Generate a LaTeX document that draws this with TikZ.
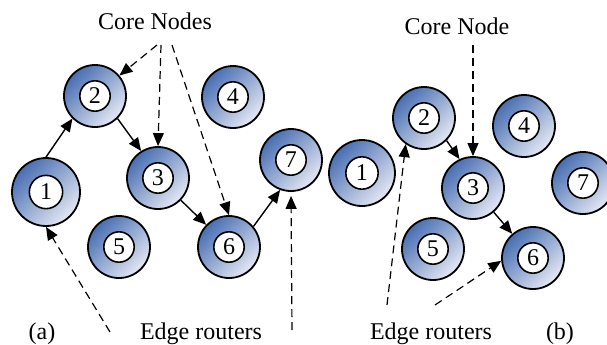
\documentclass[tikz,border=0pt]{standalone}
\usepackage{fontspec}
\setmainfont{Liberation Serif}
\usepackage{tikz}
\usetikzlibrary{arrows.meta}
\definecolor{routerDark}{RGB}{72,110,178}
\definecolor{routerLight}{RGB}{228,232,243}
\tikzstyle{diagram} = [x = .5pt, y = -.5pt]
\tikzset{routerStyle/.style = {circle, draw=black, line width=.9pt, inner sep=0pt, minimum size=#1,
    top color=routerDark, bottom color=routerLight, shading angle=45,
    font=\fontsize{12}{14}\selectfont,
    path picture={\draw [line width=.8pt, fill=white] (path picture bounding box.center) circle [radius=.245*#1];}},
  routerStyle/.default=31pt}
\tikzstyle{linkArrow} = [-{Triangle[length=6.5pt, width=5.5pt]}, line width=.7pt]
\tikzstyle{pointerArrow} = [linkArrow, line width=.6pt, dash pattern=on 4pt off 2.5pt]
\tikzstyle{labelText} = [anchor=base, inner sep=0pt, font=\fontsize{12}{14}\selectfont]
\newcommand{\router}[3]{\node [routerStyle] (#1) at (#2) {#3};}

\begin{document}
\begin{tikzpicture}[diagram]
  \useasboundingbox (0,0) rectangle (607,344);
  % (a)
  \node [routerStyle=34pt] (a1) at (46,192) {1};
  \router{a2}{95,96}{2}
  \router{a3}{158,178}{3}
  \router{a4}{233,97}{4}
  \router{a5}{119,247}{5}
  \router{a6}{229,247}{6}
  \router{a7}{291,160}{7}
  \draw [linkArrow] (a1.north) -- (a2.225);
  \draw [linkArrow] (a2.-45) -- (a3.122);
  \draw [linkArrow] (a3) -- (a6);
  \draw [linkArrow] (a6.40) -- (a7.250);
  \node [labelText] (coreA) at (155,29) {Core Nodes};
  \node [labelText] (edgeA) at (201,339) {Edge routers};
  \node [labelText] (capA) at (42,339) {(a)};
  \coordinate (coreA1) at (157,45);
  \coordinate (coreA2) at (161,45);
  \coordinate (coreA3) at (172,45);
  \coordinate (edgeA1) at (110,332);
  \coordinate (edgeA2) at (292,330);
  \draw [pointerArrow] (coreA1) -- (a2.40);
  \draw [pointerArrow] (coreA2) -- (a3.north);
  \draw [pointerArrow] (coreA3) -- (a6.north);
  \draw [pointerArrow] (edgeA1) -- (a1.south);
  \draw [pointerArrow, shorten >=2pt] (edgeA2) -- (a7.south);
  % (b)
  \node [routerStyle=33pt] (b1) at (362,173) {1};
  \router{b2}{424,118}{2}
  \router{b3}{473,188}{3}
  \router{b4}{524,126}{4}
  \router{b5}{433,249}{5}
  \router{b6}{533,258}{6}
  \router{b7}{583,183}{7}
  \draw [linkArrow] (b2.-45) -- (b3.115);
  \draw [linkArrow] (b3) -- (b6);
  \node [labelText] (coreB) at (457,34) {Core Node};
  \node [labelText] (edgeB) at (431,339) {Edge routers};
  \node [labelText] (capB) at (560,339) {(b)};
  \coordinate (coreB1) at (473,45);
  \coordinate (edgeB1) at (387,305);
  \coordinate (edgeB2) at (435,305);
  \draw [pointerArrow] (coreB1) -- (b3.north);
  \draw [pointerArrow] (edgeB1) -- (b2.235);
  \draw [pointerArrow] (edgeB2) -- (b6.185);
\end{tikzpicture}
\end{document}
